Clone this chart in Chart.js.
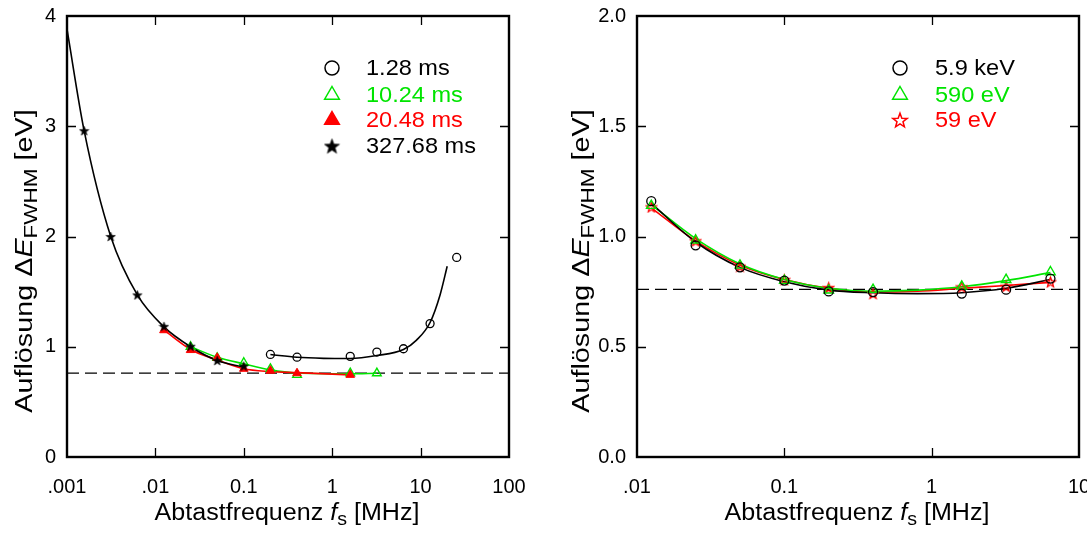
<!DOCTYPE html>
<html>
<head>
<meta charset="utf-8">
<script src="https://cdn.jsdelivr.net/npm/chart.js@4.4.1/dist/chart.umd.min.js"></script>
<style>
  html, body { margin: 0; padding: 0; background: #fff; }
  #wrap { position: relative; width: 1087px; height: 537px; overflow: hidden; }
  canvas { position: absolute; top: 0; }
  #left  { left: 0; }
  #right { left: 543px; }
</style>
</head>
<body>
<div id="wrap">
  <canvas id="left" width="543" height="537"></canvas>
  <canvas id="right" width="544" height="537"></canvas>
</div>
<script>
/* Auflösung vs. Abtastfrequenz */

// ---- left panel: record length ----
const leftLabels = ['1.28 ms', '10.24 ms', '20.48 ms', '327.68 ms']

const fCirc   = [0.2, 0.4, 1.6, 3.2, 6.4, 12.8, 25.6]
const resCirc = [0.93, 0.905, 0.913, 0.952, 0.982, 1.21, 1.81]
const fGreen   = [0.025, 0.05, 0.1, 0.2, 0.4, 1.6, 3.2]
const resGreen = [1.0, 0.9, 0.855, 0.8, 0.745, 0.76, 0.76]
const fRed   = [0.0125, 0.025, 0.05, 0.1, 0.2, 0.4, 1.6]
const resRed = [1.15, 0.97, 0.9, 0.8, 0.783, 0.76, 0.745]
const fStar   = [0.0015625, 0.003125, 0.00625, 0.0125, 0.025, 0.05, 0.1]
const resStar = [2.96, 2.0, 1.47, 1.185, 1.005, 0.875, 0.825]

// fitted curves
const fitCircF = [0.2, 0.4, 0.8, 1.6, 3.2, 6.4, 9, 12.8, 16.6, 20]
const fitCircY = [0.93, 0.905, 0.895, 0.893, 0.92, 0.975, 1.06, 1.22, 1.47, 1.73]
const fitGreenF = [0.025, 0.05, 0.1, 0.2, 0.4, 1.6, 3.2]
const fitGreenY = [1.0, 0.905, 0.845, 0.79, 0.762, 0.755, 0.76]
const fitRedF = [0.0125, 0.025, 0.05, 0.1, 0.2, 0.4, 1.6]
const fitRedY = [1.15, 0.975, 0.88, 0.8, 0.775, 0.765, 0.745]
const fitStarF = [0.001, 0.0015625, 0.003125, 0.00625, 0.0125, 0.025, 0.05, 0.1]
const fitStarY = [3.88, 2.96, 2.0, 1.47, 1.18, 1.0, 0.875, 0.815]

const leftXTicks  = [0.001, 0.01, 0.1, 1, 10, 100]
const leftXLabels = ['.001', '.01', '0.1', '1', '10', '100']
const leftYTicks  = [0, 1, 2, 3, 4]

// ---- right panel: energy ----
const rightLabels = ['5.9 keV', '590 eV', '59 eV']
const fRight  = [0.0125, 0.025, 0.05, 0.1, 0.2, 0.4, 1.6, 3.2, 6.4]
const res5900 = [1.16, 0.96, 0.86, 0.8, 0.751, 0.748, 0.741, 0.759, 0.809]
const res590  = [1.14, 0.983, 0.869, 0.8, 0.756, 0.759, 0.774, 0.804, 0.839]
const res59   = [1.134, 0.98, 0.865, 0.804, 0.768, 0.741, 0.771, 0.774, 0.794]

const fitRightF  = [0.0125, 0.025, 0.05, 0.1, 0.2, 0.4, 0.8, 1.6, 3.2, 6.4]
const fit5900Y   = [1.15, 0.975, 0.86, 0.795, 0.757, 0.745, 0.741, 0.745, 0.765, 0.805]
const fit590Y    = [1.145, 0.99, 0.875, 0.805, 0.765, 0.752, 0.757, 0.772, 0.8, 0.836]
const fit59Y     = [1.13, 0.98, 0.87, 0.805, 0.765, 0.748, 0.752, 0.765, 0.778, 0.792]

const rightXTicks  = [0.01, 0.1, 1, 10]
const rightXLabels = ['.01', '0.1', '1', '10']
const rightYTicks  = [0, 0.5, 1, 1.5, 2]

const limitLine = 0.76   // dashed reference

const GREEN = '#00e400'
const RED   = '#ff0000'
const BLACK = '#000000'
const FONT  = '"Liberation Sans", Arial, Helvetica, sans-serif'

function pts(xs, ys) { return xs.map((x, i) => ({ x, y: ys[i] })) }

function starImage(size, fill, stroke, lw) {
  const c = document.createElement('canvas')
  c.width = c.height = size
  const g = c.getContext('2d')
  const R = size / 2 - lw, r = R * 0.42, cx = size / 2, cy = size / 2 + R * 0.1
  g.beginPath()
  for (let i = 0; i < 10; i++) {
    const a = -Math.PI / 2 + i * Math.PI / 5
    const d = i % 2 ? r : R
    g.lineTo(cx + d * Math.cos(a), cy + d * Math.sin(a))
  }
  g.closePath()
  if (fill) { g.fillStyle = fill; g.fill() }
  if (stroke) { g.strokeStyle = stroke; g.lineWidth = lw; g.lineJoin = 'miter'; g.stroke() }
  return c
}

const starBlack    = starImage(11, BLACK, BLACK, 0.5)
const starBlackLeg = starImage(17, BLACK, BLACK, 0.5)
const starRed      = starImage(13, null, RED, 1.3)
const starRedLeg   = starImage(18, null, RED, 1.5)

function fitLine(xs, ys, color) {
  return {
    data: pts(xs, ys), showLine: true, pointRadius: 0, borderColor: color,
    borderWidth: 1.6, cubicInterpolationMode: 'monotone', order: 2
  }
}
function markers(xs, ys, style, color, fill, r, bw) {
  return {
    data: pts(xs, ys), showLine: false, pointStyle: style, pointRadius: r,
    borderColor: color, backgroundColor: fill, borderWidth: bw, order: 1
  }
}
function dashed(min, max) {
  return {
    data: pts([min, max], [limitLine, limitLine]), showLine: true, pointRadius: 0,
    borderColor: BLACK, borderWidth: 1.3, borderDash: [12, 6], order: 3
  }
}

// draws a marker for the legend
function legMarker(ctx, kind, x, y) {
  ctx.save()
  ctx.lineWidth = 1.5
  if (kind.img) { ctx.drawImage(kind.img, x - kind.img.width / 2, y - kind.img.height / 2); ctx.restore(); return }
  ctx.strokeStyle = kind.color
  ctx.fillStyle = kind.fill || 'rgba(0,0,0,0)'
  ctx.beginPath()
  if (kind.shape === 'circle') ctx.arc(x, y, kind.r, 0, Math.PI * 2)
  else {
    const r = kind.r
    ctx.moveTo(x, y - r)
    ctx.lineTo(x + r * 0.866, y + r * 0.5)
    ctx.lineTo(x - r * 0.866, y + r * 0.5)
    ctx.closePath()
  }
  if (kind.fill) ctx.fill()
  ctx.stroke()
  ctx.restore()
}

// rich text centred on cx, stretched along the baseline by sx
function drawRich(ctx, parts, cx, cy, sx) {
  let w = 0
  parts.forEach(p => { ctx.font = (p.it ? 'italic ' : '') + p.s + 'px ' + FONT; w += ctx.measureText(p.t).width })
  ctx.save()
  ctx.translate(cx, cy)
  ctx.scale(sx, 1)
  let x = -w / 2
  parts.forEach(p => {
    ctx.font = (p.it ? 'italic ' : '') + p.s + 'px ' + FONT
    ctx.fillText(p.t, x, p.dy || 0)
    x += ctx.measureText(p.t).width
  })
  ctx.restore()
}

const yTitle = [
  { t: 'Auflösung ', s: 23 }, { t: 'Δ', s: 23 }, { t: 'E', s: 23, it: true },
  { t: 'FWHM', s: 18, dy: 5 }, { t: ' [eV]', s: 23 }
]
const xTitle = [
  { t: 'Abtastfrequenz ', s: 23 }, { t: 'f', s: 23, it: true },
  { t: 's', s: 18, dy: 5 }, { t: ' [MHz]', s: 23 }
]

// frame, inner ticks, legend and axis titles
const decoPlugin = {
  id: 'deco',
  afterDraw(chart, args, o) {
    const { ctx, chartArea: a, scales } = chart
    ctx.save()
    ctx.strokeStyle = BLACK
    ctx.lineWidth = 1.3
    const tl = 9
    o.xInner.forEach(v => {
      const px = Math.round(scales.x.getPixelForValue(v)) + 0.5
      ctx.beginPath()
      ctx.moveTo(px, a.bottom); ctx.lineTo(px, a.bottom - tl)
      ctx.moveTo(px, a.top); ctx.lineTo(px, a.top + tl)
      ctx.stroke()
    })
    o.yInner.forEach(v => {
      const py = Math.round(scales.y.getPixelForValue(v)) + 0.5
      ctx.beginPath()
      ctx.moveTo(a.left, py); ctx.lineTo(a.left + tl, py)
      ctx.moveTo(a.right, py); ctx.lineTo(a.right - tl, py)
      ctx.stroke()
    })
    ctx.lineWidth = 2.4
    ctx.strokeRect(a.left, a.top, a.right - a.left, a.bottom - a.top)

    // legend
    ctx.textBaseline = 'middle'
    ctx.textAlign = 'left'
    o.legend.forEach((it, i) => {
      const y = o.legY[i]
      legMarker(ctx, it.m, o.legX, y)
      ctx.fillStyle = it.color
      ctx.save()
      ctx.translate(o.legTextX, y + 1)
      ctx.scale(1.07, 1)
      ctx.font = '22px ' + FONT
      ctx.fillText(it.label, 0, 0)
      ctx.restore()
    })

    // titles
    ctx.fillStyle = BLACK
    ctx.textBaseline = 'alphabetic'
    drawRich(ctx, xTitle, (a.left + a.right) / 2 - 1, 520, 1.09)
    ctx.translate(o.yTitleX, 261)
    ctx.rotate(-Math.PI / 2)
    drawRich(ctx, yTitle, 0, 0, 1.25)
    ctx.restore()
  }
}

function makeScales(xMin, xMax, xTicks, xLabels, yMax, yTicks, yFmt, yWidth) {
  return {
    x: {
      type: 'logarithmic', min: xMin, max: xMax,
      grid: { display: false, drawTicks: false }, border: { display: false },
      afterBuildTicks: s => { s.ticks = xTicks.map(v => ({ value: v })) },
      afterFit: s => { s.height = 80; s.paddingLeft = 0; s.paddingRight = 0 },
      ticks: {
        color: BLACK, font: { family: FONT, size: 20 }, padding: 18,
        maxRotation: 0, autoSkip: false,
        callback: (v, i) => xLabels[i]
      }
    },
    y: {
      min: 0, max: yMax,
      grid: { display: false, drawTicks: false }, border: { display: false },
      afterBuildTicks: s => { s.ticks = yTicks.map(v => ({ value: v })) },
      afterFit: s => { s.width = yWidth; s.paddingTop = 0; s.paddingBottom = 0 },
      ticks: {
        color: BLACK, font: { family: FONT, size: 20 }, padding: 11,
        callback: v => yFmt(v)
      }
    }
  }
}

const baseOpts = {
  responsive: false, animation: false, devicePixelRatio: 1,
  plugins: { legend: { display: false }, tooltip: { enabled: false } }
}

new Chart(document.getElementById('left'), {
  type: 'scatter',
  data: {
    datasets: [
      dashed(0.001, 100),
      fitLine(fitStarF, fitStarY, BLACK),
      fitLine(fitRedF, fitRedY, RED),
      fitLine(fitGreenF, fitGreenY, GREEN),
      fitLine(fitCircF, fitCircY, BLACK),
      markers(fStar, resStar, starBlack, BLACK, BLACK, 5, 1),
      markers(fRed, resRed, 'triangle', RED, RED, 5, 1),
      markers(fGreen, resGreen, 'triangle', GREEN, 'rgba(0,0,0,0)', 5, 1.4),
      markers(fCirc, resCirc, 'circle', BLACK, 'rgba(0,0,0,0)', 4, 1.3)
    ]
  },
  options: {
    ...baseOpts,
    layout: { padding: { left: 0, right: 34, top: 16, bottom: 0 } },
    scales: makeScales(0.001, 100, leftXTicks, leftXLabels, 4, leftYTicks, v => String(v), 67),
    plugins: {
      ...baseOpts.plugins,
      deco: {
        xInner: [0.01, 0.1, 1, 10], yInner: [1, 2, 3],
        legX: 332, legTextX: 366, legY: [68, 95, 120, 146], yTitleX: 32,
        legend: [
          { label: leftLabels[0], color: BLACK, m: { shape: 'circle', r: 7, color: BLACK } },
          { label: leftLabels[1], color: GREEN, m: { shape: 'tri', r: 8.5, color: GREEN } },
          { label: leftLabels[2], color: RED, m: { shape: 'tri', r: 8.5, color: RED, fill: RED } },
          { label: leftLabels[3], color: BLACK, m: { img: starBlackLeg } }
        ]
      }
    }
  },
  plugins: [decoPlugin]
})

new Chart(document.getElementById('right'), {
  type: 'scatter',
  data: {
    datasets: [
      dashed(0.01, 10),
      fitLine(fitRightF, fit5900Y, BLACK),
      fitLine(fitRightF, fit590Y, GREEN),
      fitLine(fitRightF, fit59Y, RED),
      markers(fRight, res5900, 'circle', BLACK, 'rgba(0,0,0,0)', 4.5, 1.3),
      markers(fRight, res590, 'triangle', GREEN, 'rgba(0,0,0,0)', 5.5, 1.4),
      markers(fRight, res59, starRed, RED, 'rgba(0,0,0,0)', 6, 1)
    ]
  },
  options: {
    ...baseOpts,
    layout: { padding: { left: 0, right: 8, top: 16, bottom: 0 } },
    scales: makeScales(0.01, 10, rightXTicks, rightXLabels, 2, rightYTicks, v => v.toFixed(1), 94),
    plugins: {
      ...baseOpts.plugins,
      deco: {
        xInner: [0.1, 1], yInner: [0.5, 1, 1.5],
        legX: 357, legTextX: 392, legY: [68, 95, 120], yTitleX: 46,
        legend: [
          { label: rightLabels[0], color: BLACK, m: { shape: 'circle', r: 7, color: BLACK } },
          { label: rightLabels[1], color: GREEN, m: { shape: 'tri', r: 8.5, color: GREEN } },
          { label: rightLabels[2], color: RED, m: { img: starRedLeg } }
        ]
      }
    }
  },
  plugins: [decoPlugin]
})
</script>
</body>
</html>
